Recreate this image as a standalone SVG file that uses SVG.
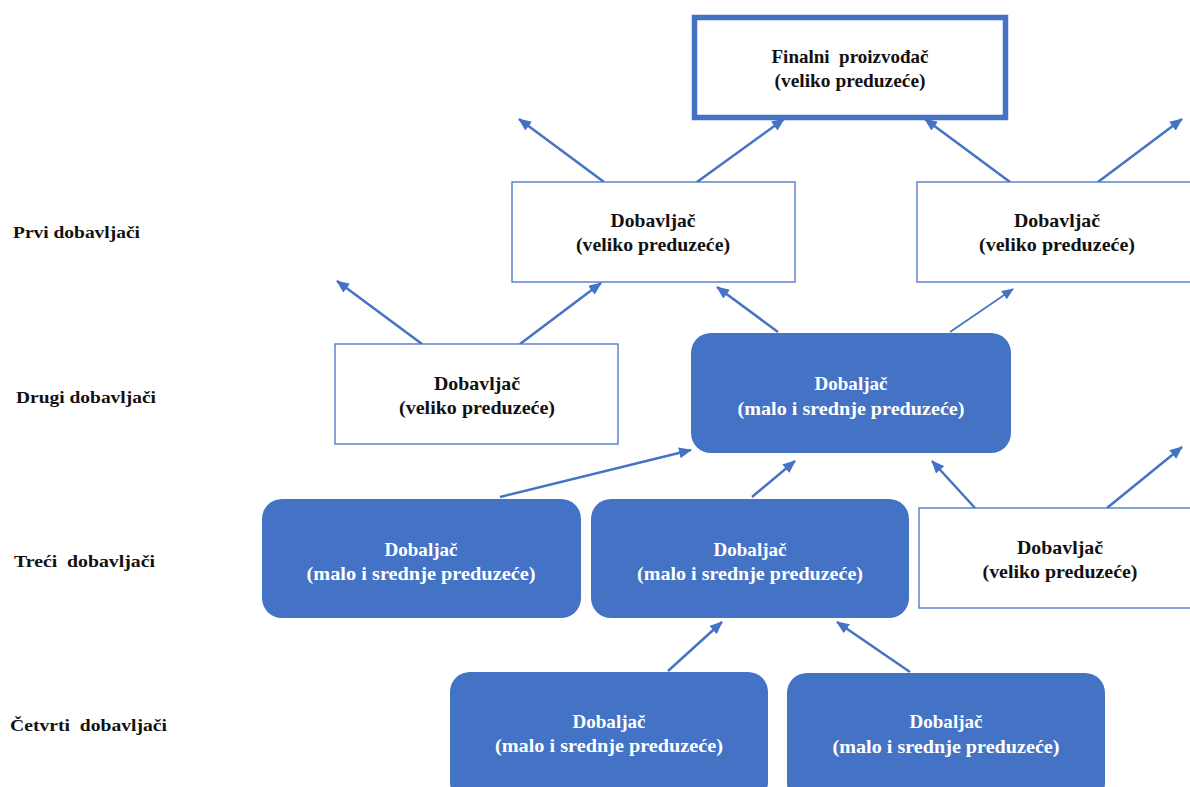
<svg xmlns="http://www.w3.org/2000/svg" width="1190" height="787" viewBox="0 0 1190 787">
<style>
.wb{fill:#fff;stroke:#4472C4;stroke-width:1.3}
.bb{fill:#4472C4;stroke:none}
.fin{fill:#fff;stroke:#4472C4;stroke-width:5.5}
text{font-family:'Liberation Serif','Times New Roman','DejaVu Serif',serif;font-weight:bold}
.t{font-size:19px;text-anchor:middle;fill:#111}
.tw{font-size:19px;text-anchor:middle;fill:#fff}
.lbl{font-size:17px;fill:#111}
.a{stroke:#4472C4;stroke-width:2.5;fill:none;marker-end:url(#ah)}
.a2{stroke:#4472C4;stroke-width:1.6;fill:none;marker-end:url(#ah2)}
</style>
<defs>
<marker id="ah" markerUnits="userSpaceOnUse" markerWidth="13" markerHeight="11" refX="12" refY="5.5" orient="auto"><path d="M0,0 L13,5.5 L0,11 z" fill="#4472C4"/></marker>
<marker id="ah2" markerUnits="userSpaceOnUse" markerWidth="12" markerHeight="10" refX="11" refY="5" orient="auto"><path d="M0,0 L12,5 L0,10 z" fill="#4472C4"/></marker>
</defs>
<rect width="1190" height="787" fill="#fff"/>

<g id="labels">
<text class="lbl" x="13" y="238" textLength="127" lengthAdjust="spacingAndGlyphs">Prvi dobavljači</text>
<text class="lbl" x="16" y="403" textLength="140" lengthAdjust="spacingAndGlyphs">Drugi dobavljači</text>
<text class="lbl" x="14" y="567" textLength="141" lengthAdjust="spacingAndGlyphs" xml:space="preserve">Treći  dobavljači</text>
<text class="lbl" x="10" y="731" textLength="157" lengthAdjust="spacingAndGlyphs" xml:space="preserve">Četvrti  dobavljači</text>
</g>

<g id="connectors">
<line class="a" x1="604" y1="182" x2="519" y2="119"/>
<line class="a" x1="697" y1="182" x2="784" y2="119"/>
<line class="a" x1="1010" y1="182" x2="925" y2="119"/>
<line class="a" x1="1098" y1="182" x2="1182" y2="119"/>
<line class="a" x1="422" y1="344" x2="337" y2="281"/>
<line class="a" x1="520" y1="344" x2="601" y2="283"/>
<line class="a" x1="778" y1="332" x2="717" y2="287"/>
<line class="a2" x1="950" y1="332" x2="1013" y2="289"/>
<line class="a" x1="500" y1="497" x2="691" y2="450"/>
<line class="a" x1="752" y1="497" x2="795" y2="461"/>
<line class="a" x1="975" y1="508" x2="932" y2="461"/>
<line class="a" x1="1107" y1="508" x2="1182" y2="447"/>
<line class="a" x1="668" y1="671" x2="722" y2="622"/>
<line class="a" x1="910" y1="672" x2="837" y2="622"/>
</g>

<g id="final">
<rect class="fin" x="694.5" y="17.5" width="311" height="100"/>
<text class="t" x="850" y="63" textLength="157" lengthAdjust="spacingAndGlyphs" xml:space="preserve">Finalni  proizvođač</text>
<text class="t" x="850" y="87" textLength="151" lengthAdjust="spacingAndGlyphs">(veliko preduzeće)</text>
</g>

<g id="prvi1">
<rect class="wb" x="512" y="182" width="283" height="100"/>
<text class="t" x="653" y="227" textLength="85" lengthAdjust="spacingAndGlyphs">Dobavljač</text>
<text class="t" x="653" y="251" textLength="154" lengthAdjust="spacingAndGlyphs">(veliko preduzeće)</text>
</g>

<g id="prvi2">
<rect class="wb" x="917" y="182" width="280" height="100"/>
<text class="t" x="1057" y="227" textLength="86" lengthAdjust="spacingAndGlyphs">Dobavljač</text>
<text class="t" x="1057" y="251" textLength="156" lengthAdjust="spacingAndGlyphs">(veliko preduzeće)</text>
</g>

<g id="drugi1">
<rect class="wb" x="335" y="344" width="283" height="100"/>
<text class="t" x="477" y="390" textLength="86" lengthAdjust="spacingAndGlyphs">Dobavljač</text>
<text class="t" x="477" y="414" textLength="156" lengthAdjust="spacingAndGlyphs">(veliko preduzeće)</text>
</g>

<g id="drugi2">
<rect class="bb" x="691" y="333" width="320" height="120" rx="20"/>
<text class="tw" x="851" y="390" textLength="73" lengthAdjust="spacingAndGlyphs">Dobaljač</text>
<text class="tw" x="851" y="415" textLength="227" lengthAdjust="spacingAndGlyphs">(malo i srednje preduzeće)</text>
</g>

<g id="treci1">
<rect class="bb" x="262" y="499" width="319" height="119" rx="20"/>
<text class="tw" x="421" y="556" textLength="73" lengthAdjust="spacingAndGlyphs">Dobaljač</text>
<text class="tw" x="421" y="580" textLength="229" lengthAdjust="spacingAndGlyphs">(malo i srednje preduzeće)</text>
</g>

<g id="treci2">
<rect class="bb" x="591" y="499" width="318" height="119" rx="20"/>
<text class="tw" x="750" y="556" textLength="73" lengthAdjust="spacingAndGlyphs">Dobaljač</text>
<text class="tw" x="750" y="580" textLength="226" lengthAdjust="spacingAndGlyphs">(malo i srednje preduzeće)</text>
</g>

<g id="treci3">
<rect class="wb" x="919" y="508" width="282" height="100"/>
<text class="t" x="1060" y="554" textLength="86" lengthAdjust="spacingAndGlyphs">Dobavljač</text>
<text class="t" x="1060" y="578" textLength="155" lengthAdjust="spacingAndGlyphs">(veliko preduzeće)</text>
</g>

<g id="cetvrti1">
<rect class="bb" x="450" y="672" width="318" height="130" rx="20"/>
<text class="tw" x="609" y="728" textLength="73" lengthAdjust="spacingAndGlyphs">Dobaljač</text>
<text class="tw" x="609" y="752" textLength="228" lengthAdjust="spacingAndGlyphs">(malo i srednje preduzeće)</text>
</g>

<g id="cetvrti2">
<rect class="bb" x="787" y="673" width="318" height="130" rx="20"/>
<text class="tw" x="946" y="728" textLength="73" lengthAdjust="spacingAndGlyphs">Dobaljač</text>
<text class="tw" x="946" y="753" textLength="227" lengthAdjust="spacingAndGlyphs">(malo i srednje preduzeće)</text>
</g>
</svg>
